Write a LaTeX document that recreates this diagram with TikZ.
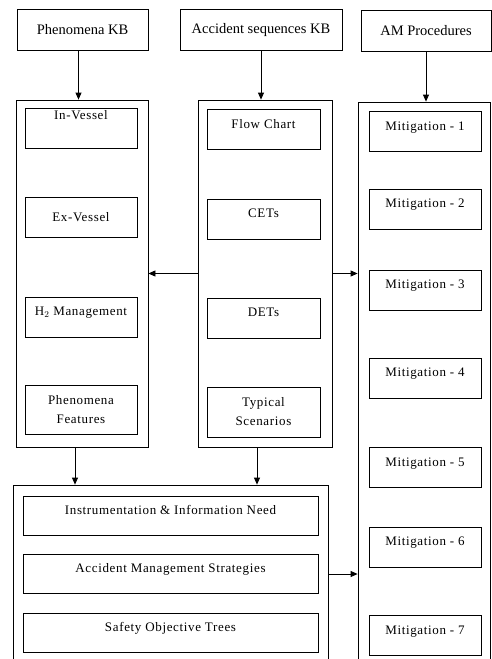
\documentclass[tikz,border=0pt]{standalone}
\usepackage{fontspec}
\setmainfont{Liberation Serif}
\usetikzlibrary{arrows.meta,positioning}

\tikzset{
  kbbox/.style={draw,line width=.8pt,minimum height=41pt,inner sep=2pt,font=\fontsize{14.5}{16}\selectfont},
  panel/.style={draw,line width=.8pt,inner sep=0pt},
  boxbase/.style={draw,line width=.8pt,minimum height=40pt,inner sep=2pt,align=center,
    font=\fontsize{13}{19}\selectfont\addfontfeature{LetterSpace=5}},
  itembox/.style={boxbase,text height=10pt,text depth=13pt},
  twoline/.style={boxbase},
  arr/.style={-{Triangle[length=7pt,width=6pt]},line width=.8pt}
}

\begin{document}
\begin{tikzpicture}[x=1pt,y=-1pt]
  \useasboundingbox (0,0) rectangle (492,659);
  \clip (0,0) rectangle (492,659);

  % knowledge bases on top
  \node[kbbox,minimum width=131pt] (phenkb) at (82.5,30) {Phenomena KB};
  \node[kbbox,minimum width=162pt] (seqkb) at (261,30) {Accident sequences KB};
  \node[kbbox,minimum width=130pt] (amkb) at (426,31) {AM Procedures};

  % panels (right and bottom ones run off the page)
  \node[panel,minimum width=132pt,minimum height=347pt] (phenpanel) at (82,273.5) {};
  \node[panel,minimum width=134pt,minimum height=347pt] (seqpanel) at (265,273.5) {};
  \node[panel,minimum width=132pt,minimum height=600pt] (ampanel) at (424,402) {};
  \node[panel,minimum width=315pt,minimum height=220pt] (mgmtpanel) at (170.5,595) {};

  % phenomena items
  \node[itembox,minimum width=112pt,text height=8pt,text depth=27pt] (phen1) at (81,128.5) {In-Vessel};
  \node[itembox,minimum width=112pt,text depth=3pt] (phen2) at (81,217.5) {Ex-Vessel};
  \node[itembox,minimum width=112pt] (phen3) at (81,317) {H$_2$ Management};
  \node[twoline,minimum width=112pt,minimum height=49pt] (phen4) at (81,409.5) {Phenomena\\Features};

  % accident sequence items
  \foreach \y/\txt [count=\i] in {129.5/Flow Chart,219/CETs,318/DETs}
    \node[itembox,minimum width=113pt] (seq\i) at (263.5,\y) {\txt};
  \node[twoline,minimum width=113pt,minimum height=50pt] (seq4) at (263.5,412) {Typical\\Scenarios};

  % mitigation items
  \foreach \y [count=\i] in {131.5,209,290,378,467.5,547,635.5}
    \node[itembox,minimum width=112pt] (mit\i) at (425,\y) {Mitigation - \i};

  % management items
  \node[itembox,minimum width=295pt,minimum height=39pt] (info) at (170.5,515.5) {Instrumentation \& Information Need};
  \node[itembox,minimum width=295pt,minimum height=39pt] (ams) at (170.5,574) {Accident Management Strategies};
  \node[itembox,minimum width=295pt,minimum height=39pt] (sot) at (170.5,633) {Safety Objective Trees};

  % connectors
  \draw[arr] ([xshift=-4pt]phenkb.south) -- ([xshift=-4pt]phenkb.south |- phenpanel.north);
  \draw[arr] (seqkb.south) -- (seqkb.south |- seqpanel.north);
  \draw[arr] (amkb.south) -- (amkb.south |- ampanel.north);
  \draw[arr] (seqpanel.west) -- (phenpanel.east);
  \draw[arr] (seqpanel.east) -- (seqpanel.east -| ampanel.west);
  \draw[arr] ([xshift=-7pt]phenpanel.south) -- ([xshift=-7pt]phenpanel.south |- mgmtpanel.north);
  \draw[arr] ([xshift=-8pt]seqpanel.south) -- ([xshift=-8pt]seqpanel.south |- mgmtpanel.north);
  \draw[arr] (mgmtpanel.east |- ams) -- (ampanel.west |- ams);
\end{tikzpicture}
\end{document}
